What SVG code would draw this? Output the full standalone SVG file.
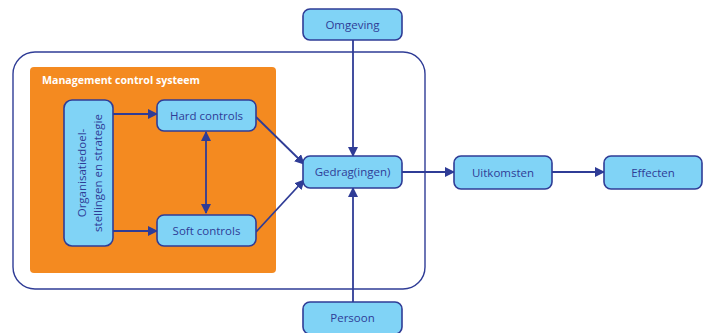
<svg xmlns="http://www.w3.org/2000/svg" width="706" height="333" viewBox="0 0 706 333">
<defs>
<style>
.box{fill:#80d3f6;stroke:#2f3c96;stroke-width:1.6}
.lbl{font-family:"Open Sans","Liberation Sans",sans-serif;font-size:11.5px;fill:#2f3c96;text-anchor:middle}
.ln{stroke:#2f3c96;stroke-width:1.8;fill:none}
</style>
<marker id="ah" viewBox="0 0 10 10" refX="9" refY="5" markerWidth="10" markerHeight="10" markerUnits="userSpaceOnUse" orient="auto-start-reverse">
<path d="M0,0 L10,5 L0,10 z" fill="#2f3c96"/>
</marker>
</defs>
<rect width="706" height="333" fill="#ffffff"/>
<g id="frame">
<rect x="13" y="52" width="412" height="237" rx="22" fill="none" stroke="#2f3c96" stroke-width="1.4"/>
</g>
<g id="mcs">
<rect x="30" y="67" width="246" height="206" rx="4" fill="#f48a20"/>
<text x="42" y="84" font-family="'Open Sans','Liberation Sans',sans-serif" font-size="10.6" font-weight="bold" fill="#ffffff">Management control systeem</text>
</g>
<g id="connectors">
<line class="ln" x1="113" y1="114" x2="157" y2="114" marker-end="url(#ah)"/>
<line class="ln" x1="113" y1="231" x2="157" y2="231" marker-end="url(#ah)"/>
<line class="ln" x1="206" y1="132" x2="206" y2="213" marker-start="url(#ah)" marker-end="url(#ah)"/>
<line class="ln" x1="256" y1="117" x2="304" y2="164" marker-end="url(#ah)"/>
<line class="ln" x1="256" y1="232" x2="304" y2="180" marker-end="url(#ah)"/>
<line class="ln" x1="353" y1="40" x2="353" y2="156" marker-end="url(#ah)"/>
<line class="ln" x1="353" y1="302" x2="353" y2="188" marker-end="url(#ah)"/>
<line class="ln" x1="402" y1="172" x2="454" y2="172" marker-end="url(#ah)"/>
<line class="ln" x1="552" y1="172" x2="604" y2="172" marker-end="url(#ah)"/>
</g>
<g id="organisatie">
<rect class="box" x="64" y="100" width="49" height="146" rx="8"/>
<text class="lbl" transform="translate(86,173) rotate(-90)">Organisatiedoel-</text>
<text class="lbl" transform="translate(101.5,173) rotate(-90)">stellingen en strategie</text>
</g>
<g id="hard">
<rect class="box" x="157" y="100" width="99" height="31" rx="7"/>
<text class="lbl" x="206.5" y="119.5">Hard controls</text>
</g>
<g id="soft">
<rect class="box" x="157" y="215" width="99" height="31" rx="7"/>
<text class="lbl" x="206.5" y="234.5">Soft controls</text>
</g>
<g id="omgeving">
<rect class="box" x="303" y="9" width="99" height="31" rx="7"/>
<text class="lbl" x="352.5" y="28.5">Omgeving</text>
</g>
<g id="gedrag">
<rect class="box" x="303" y="156" width="99" height="32" rx="7"/>
<text class="lbl" x="352.5" y="176">Gedrag(ingen)</text>
</g>
<g id="persoon">
<rect class="box" x="303" y="302" width="99" height="32" rx="7"/>
<text class="lbl" x="352.5" y="322">Persoon</text>
</g>
<g id="uitkomsten">
<rect class="box" x="454" y="156" width="98" height="33" rx="7"/>
<text class="lbl" x="503" y="176.5">Uitkomsten</text>
</g>
<g id="effecten">
<rect class="box" x="604" y="156" width="98" height="33" rx="7"/>
<text class="lbl" x="653" y="176.5">Effecten</text>
</g>
</svg>
